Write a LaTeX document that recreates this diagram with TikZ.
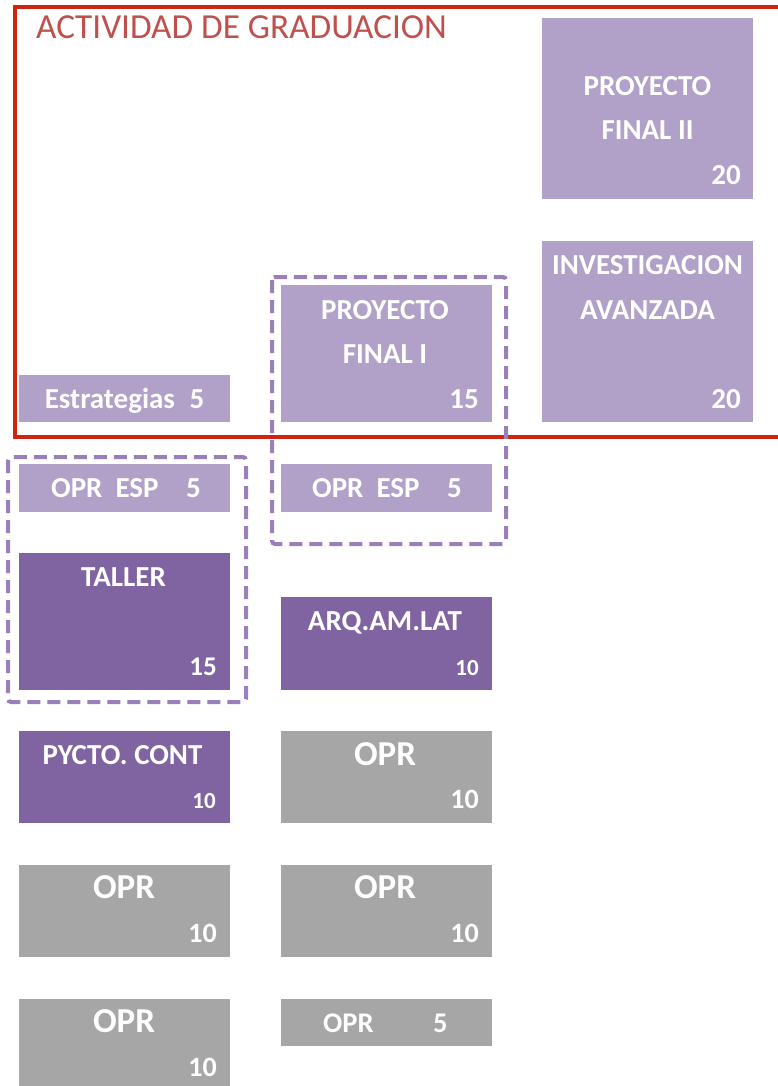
\documentclass[tikz,border=0pt]{standalone}
\usepackage{fontspec}
\setmainfont{Carlito}
\definecolor{lpur}{HTML}{B1A0C7}
\definecolor{dpur}{HTML}{8064A2}
\definecolor{gry}{HTML}{A6A6A6}
\definecolor{dsh}{HTML}{9A80BA}
\definecolor{redl}{HTML}{CE2410}
\definecolor{ttl}{HTML}{C0504D}
\tikzset{
  box/.style={draw=none, inner sep=0pt, outer sep=0pt, anchor=north west, minimum width=211pt},
  lbox/.style={box, fill=lpur},
  dbox/.style={box, fill=dpur},
  gbox/.style={box, fill=gry},
  txt/.style={inner sep=0pt, text=white, font=\bfseries\fontsize{29}{30}\selectfont, anchor=base},
  num/.style={txt, anchor=base east},
  bigtxt/.style={txt, font=\bfseries\fontsize{35}{36}\selectfont},
  dgroup/.style={draw=dsh, line width=4pt, dash pattern=on 13pt off 7pt, rounded corners=3pt},
}
\begin{document}
\begin{tikzpicture}[x=1pt,y=-1pt]
\useasboundingbox (0,0) rectangle (777,1086);
% red frame
\coordinate (rtr) at (790,7);
\coordinate (rtl) at (15,7);
\coordinate (rbl) at (15,437);
\coordinate (rbr) at (790,437);
\draw[redl, line width=3.3pt] (rtr) -- (rtl) -- (rbl) -- (rbr);
\node[inner sep=0pt, anchor=base west, text=ttl, font=\fontsize{35.2}{36}\selectfont] (title) at (36,39) {ACTIVIDAD DE GRADUACION};
% dashed groups
\coordinate (g1a) at (272,277);
\coordinate (g1b) at (506,544);
\draw[dgroup] (g1a) rectangle (g1b);
\coordinate (g2a) at (8,457);
\coordinate (g2b) at (246,702);
\draw[dgroup] (g2a) rectangle (g2b);
% column 3
\node[lbox, minimum height=181pt] (pf2) at (542,18) {};
\node[txt] (pf2a) at (647.5,96) {PROYECTO};
\node[txt] (pf2b) at (647.5,140) {FINAL II};
\node[num] (pf2n) at (741,185) {20};
\node[lbox, minimum height=181pt] (inv) at (542,241) {};
\node[txt] (inva) at (647.5,274) {INVESTIGACION};
\node[txt] (invb) at (647.5,319) {AVANZADA};
\node[num] (invn) at (741,408) {20};
% column 2
\node[lbox, minimum height=137pt] (pf1) at (281,285) {};
\node[txt] (pf1a) at (385,319) {PROYECTO};
\node[txt] (pf1b) at (385,363) {FINAL I};
\node[num] (pf1n) at (479,408) {15};
\node[lbox, minimum height=48pt] (esp2) at (281,464) {};
\node[txt] (esp2t) at (387,497) {OPR\hspace{0.45em}ESP\hspace{0.95em}5};
\node[dbox, minimum height=93pt] (arq) at (281,597) {};
\node[txt] (arqt) at (385,630) {ARQ.AM.LAT};
\node[num, font=\bfseries\fontsize{23}{24}\selectfont] (arqn) at (479,675) {10};
\node[gbox, minimum height=92pt] (o2a) at (281,731) {};
\node[bigtxt] (o2at) at (385,765) {OPR};
\node[num, font=\bfseries\fontsize{28}{29}\selectfont] (o2an) at (479,808) {10};
\node[gbox, minimum height=92pt] (o2b) at (281,865) {};
\node[bigtxt] (o2bt) at (385,898) {OPR};
\node[num, font=\bfseries\fontsize{28}{29}\selectfont] (o2bn) at (479,942) {10};
\node[gbox, minimum height=47pt] (o2c) at (281,999) {};
\node[txt, anchor=base west, font=\bfseries\fontsize{28.5}{29}\selectfont] (o2ct) at (323,1032) {OPR};
\node[txt, anchor=base west, font=\bfseries\fontsize{28.5}{29}\selectfont] (o2cn) at (433,1032) {5};
% column 1
\node[lbox, minimum height=47pt] (est) at (19,375) {};
\node[txt] (estt) at (124.5,408) {Estrategias\hspace{0.5em}5};
\node[lbox, minimum height=48pt] (esp1) at (19,464) {};
\node[txt] (esp1t) at (126,497) {OPR\hspace{0.45em}ESP\hspace{0.95em}5};
\node[dbox, minimum height=137pt] (tal) at (19,553) {};
\node[txt] (talt) at (123.5,586) {TALLER};
\node[num, font=\bfseries\fontsize{27}{28}\selectfont] (taln) at (217,675) {15};
\node[dbox, minimum height=92pt] (pyc) at (19,731) {};
\node[txt] (pyct) at (122.5,764) {PYCTO. CONT};
\node[num, font=\bfseries\fontsize{23}{24}\selectfont] (pycn) at (216,808) {10};
\node[gbox, minimum height=92pt] (o1a) at (19,865) {};
\node[bigtxt] (o1at) at (124,898) {OPR};
\node[num, font=\bfseries\fontsize{28}{29}\selectfont] (o1an) at (217,942) {10};
\node[gbox, minimum height=90pt] (o1b) at (19,999) {};
\node[bigtxt] (o1bt) at (124,1032) {OPR};
\node[num, font=\bfseries\fontsize{28}{29}\selectfont] (o1bn) at (217,1076) {10};
\end{tikzpicture}
\end{document}
